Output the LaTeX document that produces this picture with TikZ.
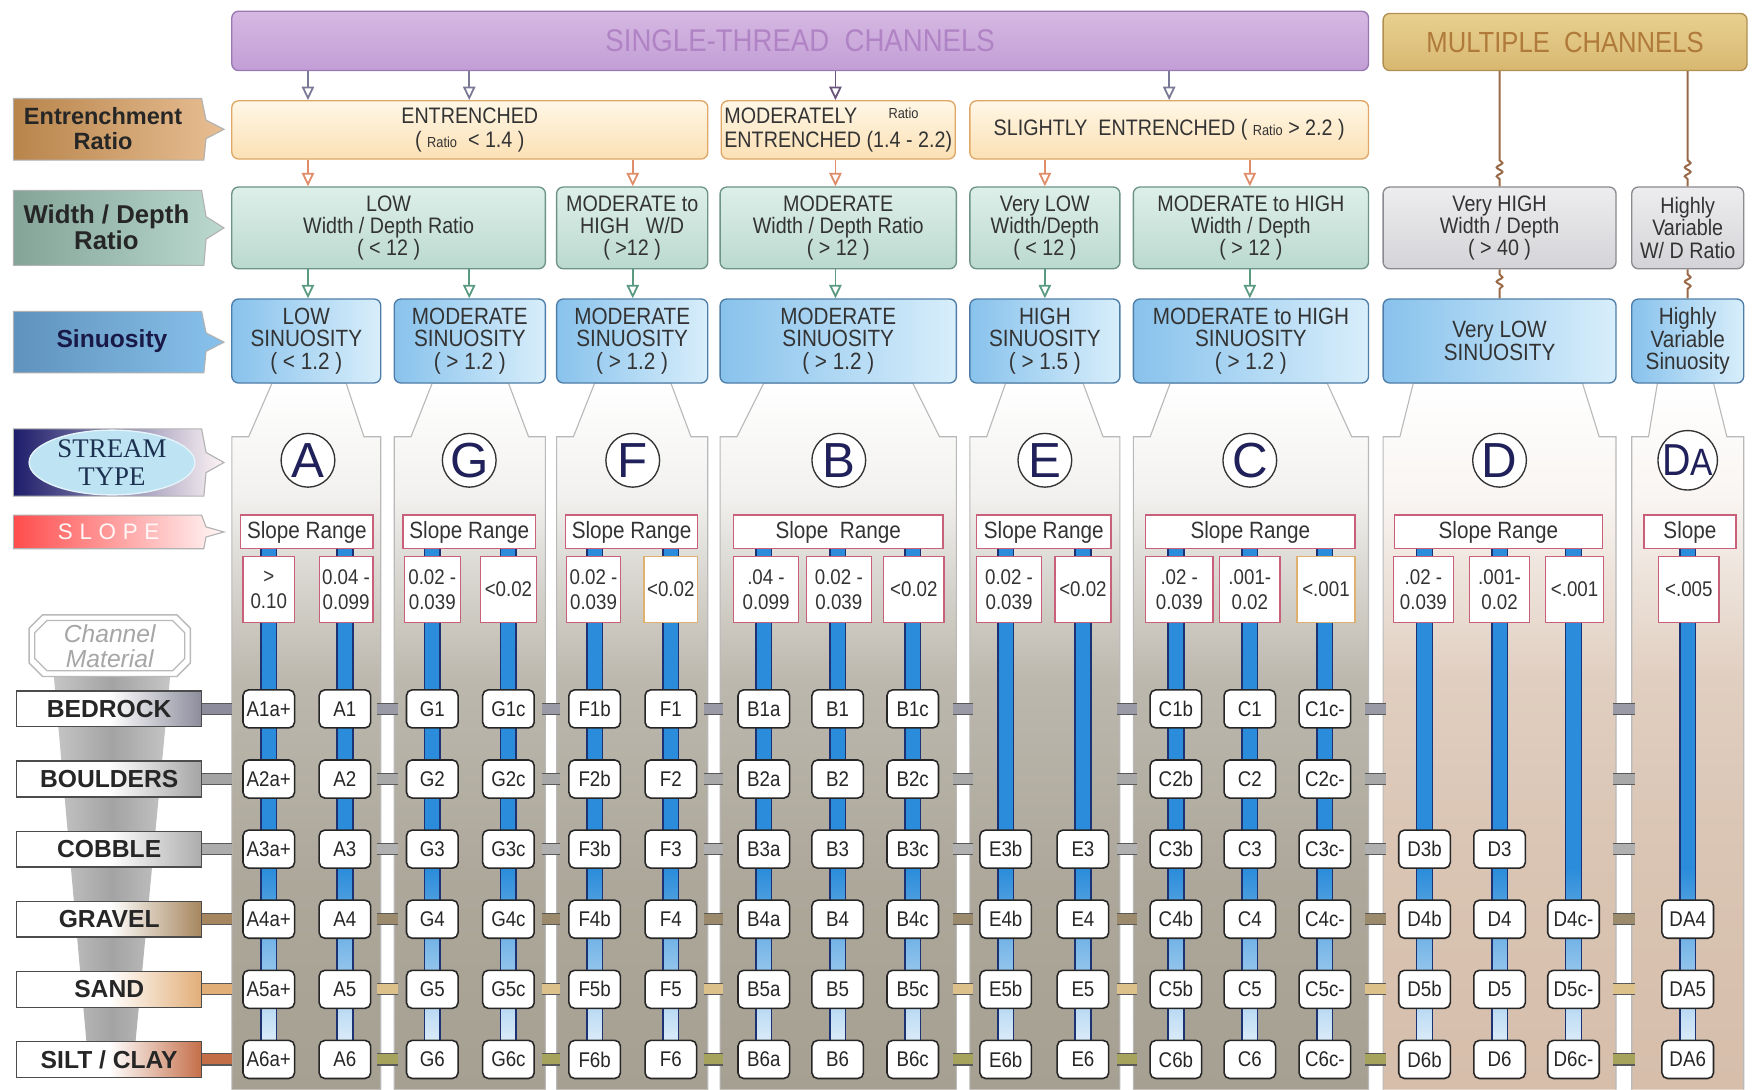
\documentclass[tikz,border=0pt]{standalone}
\usepackage{fontspec}
\setmainfont{Liberation Sans}
\newfontfamily\cf[FakeStretch=0.88]{Liberation Sans}
\newfontfamily\stf{Liberation Serif}
\usetikzlibrary{arrows.meta,decorations.pathmorphing,shapes.geometric}

\definecolor{purT}{HTML}{D6B8E2}
\definecolor{purB}{HTML}{C29ED6}
\definecolor{purD}{HTML}{9878B0}
\definecolor{purTx}{HTML}{B083C4}
\definecolor{mcT}{HTML}{E8D090}
\definecolor{mcB}{HTML}{D8B870}
\definecolor{mcD}{HTML}{B09050}
\definecolor{mcTx}{HTML}{B07A3A}
\definecolor{entT}{HTML}{FFF7E6}
\definecolor{entB}{HTML}{FBE0B4}
\definecolor{entD}{HTML}{E0A868}
\definecolor{wdT}{HTML}{DDEFE9}
\definecolor{wdB}{HTML}{BBD9CF}
\definecolor{wdD}{HTML}{6E9486}
\definecolor{gyT}{HTML}{EDEDEF}
\definecolor{gyB}{HTML}{D4D4D8}
\definecolor{gyD}{HTML}{8A8A90}
\definecolor{sinT}{HTML}{D8EEFB}
\definecolor{sinB}{HTML}{88C2EC}
\definecolor{sinD}{HTML}{4E7EA8}
\definecolor{pnG}{HTML}{A6A092}
\definecolor{pnP}{HTML}{D6BEAB}
\definecolor{barB}{HTML}{2A8CDA}
\definecolor{barL}{HTML}{1C3272}
\definecolor{slR}{HTML}{C8607A}
\definecolor{slO}{HTML}{E0B070}
\definecolor{navy}{HTML}{20205A}
\definecolor{arG}{HTML}{7A7A98}
\definecolor{arO}{HTML}{E08C68}
\definecolor{arW}{HTML}{5A9A80}
\definecolor{brn}{HTML}{9A6A48}
\definecolor{mt1}{HTML}{8C8C9C}
\definecolor{mt2}{HTML}{A4A4A4}
\definecolor{mt3}{HTML}{ACACAC}
\definecolor{mt4}{HTML}{A6865E}
\definecolor{mt5}{HTML}{E2AE78}
\definecolor{mt6}{HTML}{C46E48}
\definecolor{gp1}{HTML}{9A9AA6}
\definecolor{gp2}{HTML}{A8A8A8}
\definecolor{gp3}{HTML}{B0B0B0}
\definecolor{gp4}{HTML}{9C8A6C}
\definecolor{gp5}{HTML}{DCC28A}
\definecolor{gp6}{HTML}{A6A45C}
\definecolor{stEl}{HTML}{BEE4F4}
\definecolor{stTx}{HTML}{1C3050}

\pgfdeclareverticalshading{pgray}{100bp}{color(0bp)=(pnG); color(25bp)=(pnG); color(40bp)=(pnG!92!white); color(54bp)=(pnG!75!white); color(62bp)=(pnG!40!white); color(67bp)=(pnG!15!white); color(75bp)=(white); color(100bp)=(white)}
\pgfdeclareverticalshading{ppink}{100bp}{color(0bp)=(pnP); color(25bp)=(pnP); color(40bp)=(pnP!92!white); color(54bp)=(pnP!75!white); color(62bp)=(pnP!40!white); color(67bp)=(pnP!15!white); color(75bp)=(white); color(100bp)=(white)}

\newcommand\hlab[4]{\shadedraw[left color=#3, right color=#4, draw=gray!60, line width=0.5pt] (12,#1) -- (180,#1) -- (184,{#1+(#2-#1)*0.35}) -- (200,{(#1+#2)/2}) -- (184,{#1+(#2-#1)*0.65}) -- (182,#2) -- (12,#2) -- cycle;}
% style, name, x0, y0, x1, y1, text
\newcommand\bnode[7]{\node[#1, minimum width={(#5-#3)*0.5pt}, minimum height={(#6-#4)*0.5pt}] (#2) at ({(#3+#5)/2},{(#4+#6)/2}) {#7};}

\begin{document}
\begin{tikzpicture}[x=0.5pt,y=-0.5pt,
  bx/.style={inner sep=0pt, align=center, line width=0.6pt, rounded corners=3pt},
  entb/.style={bx, draw=entD, top color=entT, bottom color=entB, font=\cf\fontsize{10}{11}\selectfont, text=black!80},
  wdb/.style={bx, draw=wdD, top color=wdT, bottom color=wdB, font=\cf\fontsize{10}{10}\selectfont, text=black!80},
  gyb/.style={bx, draw=gyD, top color=gyT, bottom color=gyB, font=\cf\fontsize{10}{10}\selectfont, text=black!80},
  sinb/.style={bx, draw=sinD, left color=sinB, right color=sinT, font=\cf\fontsize{10.5}{10}\selectfont, text=black!80},
  circ/.style={circle, draw=black!80, line width=0.6pt, fill=white, minimum size=24pt, inner sep=0pt, text=navy, font=\fontsize{22}{22}\selectfont},
  slb/.style={draw=slR, fill=white, line width=0.6pt, inner sep=0pt, minimum height=15pt, font=\cf\fontsize{10.5}{11}\selectfont, text=black!80},
  valb/.style={draw=slR, fill=white, line width=0.6pt, inner sep=0pt, minimum height=29.5pt, align=center, font=\cf\fontsize{9.5}{11}\selectfont, text=black!80},
  code/.style={draw=black!85, line width=0.7pt, fill=white, rounded corners=2.5pt, minimum width=23pt, minimum height=17pt, inner sep=0pt, font=\cf\fontsize{9.5}{10}\selectfont, text=black!85},
  matb/.style={draw=black!70, line width=0.6pt, minimum width=82.5pt, minimum height=16pt, inner sep=0pt, font=\bfseries\fontsize{11}{11}\selectfont, text=black!85},
  hl/.style={font=\bfseries\fontsize{10.5}{11}\selectfont, align=center, inner sep=0pt},
  arr/.style={line width=0.8pt, -{Triangle[open,length=6pt,width=5.5pt]}},
  mcl/.style={draw=brn, line width=0.9pt}
]
\useasboundingbox (0,0) rectangle (1568,973);
\fill[white] (0,0) rectangle (1568,973);

% ---------- panels ----------
\foreach \L/\R/\tl/\tr/\sh in {207/340/243/309/pgray, 352/487/386/454/pgray, 497/632/531/599/pgray, 643/854/682/815/pgray, 866/1000/898/967/pgray, 1012/1222/1045/1185/pgray, 1235/1443/1262/1413/ppink, 1457/1557/1480/1530/ppink}
  \shadedraw[shading=\sh, draw=gray!55, line width=0.5pt] (\L,973) -- (\L,390) -- ({\L+15},390) -- (\tl,342) -- (\tr,342) -- ({\R-15},390) -- (\R,390) -- (\R,973);

% ---------- blue bars ----------
\foreach \xx in {240,308,386,454,531,599,682,748,815,898,967,1050,1116,1183,1272,1339,1405,1507} {
  \fill[barB] ({\xx-7},490) rectangle ({\xx+7},775);
  \shade[top color=barB, bottom color=white!92!barB] ({\xx-7},775) rectangle ({\xx+7},946);
  \draw[barL, line width=0.7pt] ({\xx-7},490) -- ({\xx-7},946) ({\xx+7},490) -- ({\xx+7},946);
}

% ---------- gap pipes ----------
\foreach \r/\pc in {1/gp1,2/gp2,3/gp3,4/gp4,5/gp5,6/gp6} {
  \pgfmathsetmacro\yy{633+62.6*(\r-1)}
  \foreach \gl/\gr in {340/352,487/497,632/643,854/866,1000/1012,1222/1235,1443/1457} {
    \fill[\pc] ({\gl-3},{\yy-5}) rectangle ({\gr+3},{\yy+5});
    \draw[black!65, line width=0.5pt] ({\gl-3},{\yy-5}) -- ({\gr+3},{\yy-5}) ({\gl-3},{\yy+5}) -- ({\gr+3},{\yy+5});
  }
}

% ---------- channel material taper and badge ----------
\shade[left color=gray!45, right color=gray!45, middle color=gray!72] (48,603) -- (152,603) -- (118,962) -- (80,962) -- cycle;
\draw[gray!55, line width=0.6pt, fill=white] (38,549) -- (158,549) -- (170,561) -- (170,592) -- (158,604) -- (38,604) -- (26,592) -- (26,561) -- cycle;
\draw[gray!55, line width=0.6pt] (42,554) -- (154,554) -- (165,565) -- (165,588) -- (154,599) -- (42,599) -- (31,588) -- (31,565) -- cycle;
\node[font=\itshape\fontsize{11}{11}\selectfont, text=gray!70, align=center, inner sep=0pt] (chm) at (98,577) {Channel\\Material};

% ---------- material labels and pipes ----------
\foreach \r/\t/\c/\nm in {1/BEDROCK/mt1/mBed, 2/BOULDERS/mt2/mBou, 3/COBBLE/mt3/mCob, 4/GRAVEL/mt4/mGra, 5/SAND/mt5/mSan, 6/{SILT / CLAY}/mt6/mSil} {
  \pgfmathsetmacro\yy{633+62.6*(\r-1)}
  \node[matb, left color=white, right color=\c, middle color=white] (\nm) at (97.5,\yy) {\t};
  \fill[\c] (\nm.east) ++(0,-5) rectangle (207,{\yy+5});
  \draw[black!65, line width=0.5pt] (\nm.east) ++(0,-5) -- (207,{\yy-5}) (\nm.east) ++(0,5) -- (207,{\yy+5});
}

% ---------- left header labels ----------
\hlab{88}{143}{mt4!80!orange}{mt5!80!white}
\node[hl, text=black!85] (lEnt) at (92,115) {Entrenchment\\Ratio};
\hlab{170}{237}{wdD!85!white}{wdB}
\node[hl, text=black!85, font=\bfseries\fontsize{11.5}{12}\selectfont] (lWD) at (95,203) {Width / Depth\\Ratio};
\hlab{278}{333}{sinD!70!sinB}{sinB}
\node[hl, text=navy!80!black, font=\bfseries\fontsize{11}{11}\selectfont] (lSin) at (100,305) {Sinuosity};
\hlab{383}{443}{navy!90!blue}{white!85!pink}
\node[ellipse, fill=stEl, draw=white!60!stEl, line width=0.6pt, minimum width=74pt, minimum height=28pt, inner sep=0pt, align=center, text=stTx, font=\stf\fontsize{12}{12.5}\selectfont] (lST) at (100,413) {STREAM\\TYPE};
\hlab{460}{490}{red!60!pink}{white!88!pink}
\node[inner sep=0pt, text=white!88!pink, font=\fontsize{10}{10}\selectfont\addfontfeature{LetterSpace=30}] (lSl) at (97,475) {SLOPE};

% ---------- top boxes ----------
\bnode{bx, draw=purD, top color=purT, bottom color=purB, text=purTx, font=\cf\fontsize{14}{14}\selectfont}{st}{207}{10}{1222}{63}{SINGLE-THREAD\ \ CHANNELS}
\bnode{bx, draw=mcD, top color=mcT, bottom color=mcB, text=mcTx, font=\cf\fontsize{13}{13}\selectfont}{mc}{1235}{12}{1560}{63}{MULTIPLE\ \ CHANNELS}

\bnode{entb}{ent1}{207}{90}{632}{142}{ENTRENCHED\\( {\fontsize{6.5}{7}\selectfont Ratio}\ \ < 1.4 )}
\bnode{entb, align=left}{ent2}{644}{90}{853}{142}{MODERATELY\hspace{14pt}\raisebox{2pt}{\fontsize{6.5}{7}\selectfont Ratio}\\ENTRENCHED (1.4 - 2.2)}
\bnode{entb}{ent3}{866}{90}{1222}{142}{SLIGHTLY\ \ ENTRENCHED ( {\fontsize{6.5}{7}\selectfont Ratio} > 2.2 )}

\bnode{wdb}{wd1}{207}{167}{487}{240}{LOW\\Width / Depth Ratio\\( < 12 )}
\bnode{wdb}{wd2}{497}{167}{632}{240}{MODERATE to\\HIGH\ \ \ W/D\\( >12 )}
\bnode{wdb}{wd3}{643}{167}{854}{240}{MODERATE\\Width / Depth Ratio\\( > 12 )}
\bnode{wdb}{wd4}{866}{167}{1000}{240}{Very LOW\\Width/Depth\\( < 12 )}
\bnode{wdb}{wd5}{1012}{167}{1222}{240}{MODERATE to HIGH\\Width / Depth\\( > 12 )}
\bnode{gyb}{wd6}{1235}{167}{1443}{240}{Very HIGH\\Width / Depth\\( > 40 )}
\bnode{gyb}{wd7}{1457}{167}{1557}{240}{Highly\\Variable\\W/ D Ratio}

\bnode{sinb}{sA}{207}{267}{340}{342}{LOW\\SINUOSITY\\( < 1.2 )}
\bnode{sinb}{sG}{352}{267}{487}{342}{MODERATE\\SINUOSITY\\( > 1.2 )}
\bnode{sinb}{sF}{497}{267}{632}{342}{MODERATE\\SINUOSITY\\( > 1.2 )}
\bnode{sinb}{sB}{643}{267}{854}{342}{MODERATE\\SINUOSITY\\( > 1.2 )}
\bnode{sinb}{sE}{866}{267}{1000}{342}{HIGH\\SINUOSITY\\( > 1.5 )}
\bnode{sinb}{sC}{1012}{267}{1222}{342}{MODERATE to HIGH\\SINUOSITY\\( > 1.2 )}
\bnode{sinb}{sD}{1235}{267}{1443}{342}{Very LOW\\SINUOSITY}
\bnode{sinb}{sDA}{1457}{267}{1557}{342}{Highly\\Variable\\Sinuosity}

% ---------- arrows ----------
\foreach \xx/\a/\b/\c in {275/st/ent1/arG, 419/st/ent1/arG, 746/st/ent2/purD!70!black, 1044/st/ent3/arG,
                          275/ent1/wd1/arO, 565/ent1/wd2/arO, 746/ent2/wd3/arO, 933/ent3/wd4/arO, 1116/ent3/wd5/arO,
                          275/wd1/sA/arW, 419/wd1/sG/arW, 565/wd2/sF/arW, 746/wd3/sB/arW, 933/wd4/sE/arW, 1116/wd5/sC/arW} {
  \coordinate (tmp) at (\xx,0);
  \draw[arr, draw=\c] (\a.south -| tmp) -- (\b.north -| tmp);
}
\foreach \xx/\b/\c in {1339/wd6/sD, 1507/wd7/sDA} {
  \coordinate (tmp) at (\xx,0);
  \draw[mcl] (mc.south -| tmp) -- (\xx,143) decorate[decoration={snake,amplitude=1.3pt,segment length=4pt}] {-- (\xx,161)} -- (\b.north -| tmp);
  \draw[mcl] (\b.south -| tmp) -- (\xx,245) decorate[decoration={snake,amplitude=1.3pt,segment length=4pt}] {-- (\xx,261)} -- (\c.north -| tmp);
}

% ---------- stream type circles ----------
\node[circ] (tA) at (275,411) {A};
\node[circ] (tG) at (419,411) {G};
\node[circ] (tF) at (565,411) {F};
\node[circ] (tB) at (749,411) {B};
\node[circ] (tE) at (933,411) {E};
\node[circ] (tC) at (1116,411) {C};
\node[circ] (tD) at (1339,411) {D};
\node[circ, font=\cf\fontsize{20}{20}\selectfont] (tDA) at (1507,411) {D{\fontsize{17}{17}\selectfont A}};

% ---------- slope boxes ----------
\node[slb, minimum width=59pt] (srA) at (274,475) {Slope Range};
\node[slb, minimum width=59pt] (srG) at (419,475) {Slope Range};
\node[slb, minimum width=59pt] (srF) at (564,475) {Slope Range};
\node[slb, minimum width=93.5pt] (srB) at (748.5,475) {Slope\ \ Range};
\node[slb, minimum width=60pt] (srE) at (932,475) {Slope Range};
\node[slb, minimum width=93.5pt] (srC) at (1116.5,475) {Slope\ Range};
\node[slb, minimum width=93pt] (srD) at (1338,475) {Slope\ Range};
\node[slb, minimum width=41pt] (srDA) at (1509,475) {Slope};

\node[valb, minimum width=23pt] (vA1) at (240,526.5) {>\\0.10};
\node[valb, minimum width=24pt] (vA2) at (309,526.5) {0.04 -\\0.099};
\node[valb, minimum width=25pt] (vG1) at (386,526.5) {0.02 -\\0.039};
\node[valb, minimum width=25pt] (vG2) at (454,526.5) {<0.02};
\node[valb, minimum width=24pt] (vF1) at (530,526.5) {0.02 -\\0.039};
\node[valb, minimum width=24pt, draw=slO] (vF2) at (599,526.5) {<0.02};
\node[valb, minimum width=29pt] (vB1) at (684,526.5) {.04 -\\0.099};
\node[valb, minimum width=29pt] (vB2) at (749,526.5) {0.02 -\\0.039};
\node[valb, minimum width=27pt] (vB3) at (816,526.5) {<0.02};
\node[valb, minimum width=29pt] (vE1) at (901,526.5) {0.02 -\\0.039};
\node[valb, minimum width=25pt] (vE2) at (967,526.5) {<0.02};
\node[valb, minimum width=30pt] (vC1) at (1053,526.5) {.02 -\\0.039};
\node[valb, minimum width=27pt] (vC2) at (1116,526.5) {.001-\\0.02};
\node[valb, minimum width=26pt, draw=slO] (vC3) at (1184,526.5) {<.001};
\node[valb, minimum width=27pt] (vD1) at (1271,526.5) {.02 -\\0.039};
\node[valb, minimum width=27pt] (vD2) at (1339,526.5) {.001-\\0.02};
\node[valb, minimum width=26pt] (vD3) at (1406,526.5) {<.001};
\node[valb, minimum width=27pt] (vDA) at (1508,526.5) {<.005};

% ---------- stream codes ----------
\foreach \xx/\p/\s/\f in {240/A/a+/1, 308/A//1, 386/G//1, 454/G/c/1, 531/F/b/1, 599/F//1, 682/B/a/1, 748/B//1, 815/B/c/1, 898/E/b/3, 967/E//3, 1050/C/b/1, 1116/C//1, 1183/C/c-/1, 1272/D/b/3, 1339/D//3, 1405/D/c-/4, 1507/DA//4} {
  \foreach \r in {\f,...,6} {
    \node[code] (k-\xx-\r) at (\xx,{633+62.6*(\r-1)}) {\p\r\s};
  }
}
\end{tikzpicture}
\end{document}
